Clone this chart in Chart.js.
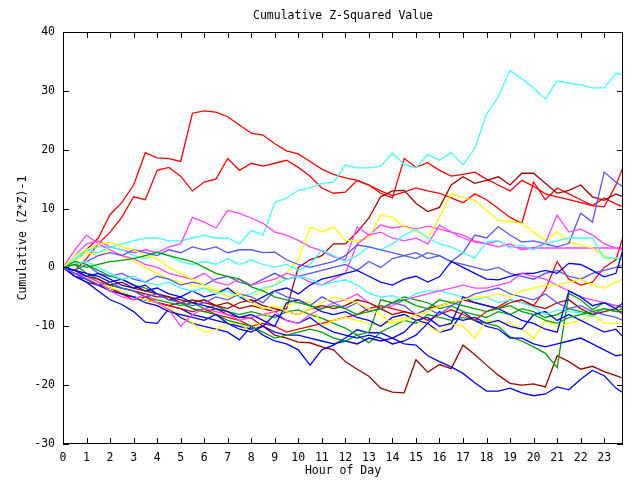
<!DOCTYPE html>
<html>
<head>
<meta charset="utf-8">
<script src="https://cdn.jsdelivr.net/npm/chart.js@4.4.1/dist/chart.umd.min.js"></script>
<style>
  html, body { margin: 0; padding: 0; background: #ffffff; }
  #wrap { width: 640px; height: 480px; }
</style>
</head>
<body>
<div id="wrap"><canvas id="chart" width="640" height="480"></canvas></div>
<script>
var hours = [0, 0.5, 1, 1.5, 2, 2.5, 3, 3.5, 4, 4.5, 5, 5.5,
  6, 6.5, 7, 7.5, 8, 8.5, 9, 9.5, 10, 10.5, 11, 11.5,
  12, 12.5, 13, 13.5, 14, 14.5, 15, 15.5, 16, 16.5, 17, 17.5,
  18, 18.5, 19, 19.5, 20, 20.5, 21, 21.5, 22, 22.5, 23, 23.5, 23.8];
var yTicks = [-30, -20, -10, 0, 10, 20, 30, 40];

var redA = [0, 1, 3, 5, 9, 11, 14, 19.5, 18.6, 18.5, 18, 26.2,
  26.6, 26.4, 25.6, 24.2, 22.8, 22.5, 21, 19.8, 19.3, 18, 16.7, 15.8,
  15.2, 14.8, 14, 13, 12.2, 12.8, 13.5, 13, 12.6, 11.8, 11, 12.5,
  11.5, 10, 8.5, 7.5, 14.5, 11.5, 13.5, 12.5, 11.5, 10.5, 11.8, 10.8, 10.3];
var redB = [0, -0.5, 1.5, 4, 6, 8.5, 12, 11.5, 16.5, 17, 15.5, 13,
  14.5, 15, 18.5, 16.5, 17.7, 17.2, 17.7, 18.2, 17, 15.5, 13.5, 12.6,
  12.8, 14.8, 14, 12.6, 11.8, 18.5, 17, 17.8, 16.5, 15.5, 15.8, 16.2,
  15, 14, 13, 14.8, 13.8, 12.5, 12, 11.5, 11, 10.5, 10.3, 14, 17];
var redC = [0, -1, -2, -3, -3.5, -4.5, -5.5, -5, -6, -6.5, -7, -7.5,
  -7, -8, -8.5, -9, -10, -9.5, -10, -11, -10.5, -10, -9.5, -9,
  -8.5, -8, -7, -6.5, -7, -7.5, -8, -9, -8, -7.2, -8, -9,
  -7.5, -6.7, -5.5, -6, -6.5, -3.8, 1, -2, -3, -2.5, 0, 1.3, 5.2];
var darkA = [0, -1, -1.5, -2.5, -3, -3.5, -4, -4.5, -5, -5, -5.5, -6,
  -5.5, -6.5, -6, -7, -6.5, -7, -7.5, -7, 0, 1.3, 2, 4,
  4, 6, 8.4, 12, 13, 13.1, 10.9, 9.5, 10.2, 14, 15.4, 14.3,
  14.8, 15.4, 14, 16, 16, 14.3, 12.6, 13.1, 14, 12, 11.4, 12.5, 12];
var darkB = [0, -1.5, -2.5, -3, -3.5, -4.5, -5, -5.5, -6, -6.5, -6, -7,
  -7.5, -7, -8, -8.5, -8.6, -10, -11.5, -12, -12.7, -12.8, -13.5, -14,
  -16, -17.3, -18.5, -20.5, -21.2, -21.3, -15.7, -17.8, -16.5, -17.2, -13.2, -14.8,
  -16.6, -18.3, -19.7, -20, -19.8, -20.3, -15, -16, -17.3, -16.8, -17.7, -18.4, -18.8];
var darkC = [0, -0.5, -1.5, -2, -3, -2.5, -3.5, -4, -4.5, -5, -6, -5.5,
  -6, -6.5, -7, -6, -5.5, -6.5, -7, -7.5, -8, -7, -6.5, -7,
  -6.5, -5.5, -6, -7, -8, -7.5, -8, -7, -6.5, -6, -5.5, -6,
  -6.5, -7, -6, -5.5, -6.5, -7, -6, -5.5, -7, -8, -7.5, -7, -8];
var cyanA = [0, 1, 3, 3.5, 3.5, 4, 4.5, 5, 5, 4.5, 4.5, 5,
  5.5, 5, 5, 4, 6.3, 5.5, 11, 11.8, 13.1, 13.5, 14.3, 14.5,
  17.4, 16.9, 16.9, 17.2, 19.4, 17.5, 16.9, 19.2, 18.2, 19.5, 17.4, 20.2,
  26, 29, 33.5, 32, 30.5, 28.6, 31.7, 31.3, 31, 30.5, 30.5, 33, 32.8];
var cyanB = [0, 1.5, 3, 2.5, 3.5, 3, 2, 1.5, 2.5, 2, 1, 0.5,
  1, 0.5, 1.5, 0.5, 1.3, 0.5, 0, 0.5, -0.5, 0.5, 3, 2,
  1, 2, 3.5, 3, 4, 5.5, 6.5, 5, 4, 3.5, 2.5, 1.6,
  4.3, 4.6, 3.3, 3.8, 3, 4, 4.5, 5, 5, 5, 1.6, 1.6, 1.3];
var cyanC = [0, 0.5, 1, 0, -1, -2, -1.5, -2.5, -3, -2.5, -3.5, -4,
  -3.5, -4.5, -4, -5, -4.5, -3.5, -3, -2, -1.5, -2, -3, -2.5,
  -2.1, -3, -4.4, -5, -4.8, -5.5, -4.5, -4, -4, -4.5, -5, -5.5,
  -5, -6, -5.5, -6, -6.7, -8, -7.2, -7.5, -7.7, -8.4, -7, -7.2, -7.2];
var magA = [0, 2, 4, 4.5, 3.5, 3, 2.5, 3, 2.5, 3.5, 4, 8.5,
  7.7, 6.7, 9.7, 9.2, 8.4, 7.5, 6, 5.5, 4.6, 3.5, 2.8, 1.8,
  1.3, 6.9, 5.5, 7.2, 6.7, 7, 6.5, 7, 6.5, 6, 5.5, 4.5,
  4, 4.5, 3.5, 3.3, 3.3, 3.3, 3.3, 3.3, 3.3, 3.3, 3.3, 3.3, 3.3];
var magB = [0, 3, 5.5, 4, 3, 2, 1.5, 0.5, 0, -1, -1.5, -2,
  -1, -2.5, -3, -2, -3, -2.5, -2, -1, -1.5, -2.5, -3, -2,
  -1, 4, 5.5, 6, 5, 4.5, 5, 4, 7.2, 6, 5, 4.3,
  4, 3.5, 4, 3, 3.3, 4.1, 8.9, 6, 6.5, 5.5, 4, 3.3, 3];
var magC = [0, -1, -1.5, -2.5, -4, -5, -5.5, -4.5, -6, -7.2, -10, -8,
  -7, -7.5, -8, -9, -8.5, -8, -7.5, -9, -9.5, -8, -7, -6,
  -5.5, -4.5, -6, -7, -6.5, -5.5, -5, -4.5, -4, -3.5, -3, -3.5,
  -3.5, -3, -2.5, -1, -1.5, -2, -3, -4, -5, -5.5, -6, -6.5, -7];
var yelA = [0, 1, 2.5, 2, 3, 2, 1, 0, -1, -2, -2.5, -3,
  -3.5, -4, -3.5, -4.5, -5, -4, -3, -1, 1.3, 6.9, 6, 6.9,
  4.6, 4.5, 5, 8.9, 8.5, 6.9, 6.3, 5, 8.5, 12.6, 11.8, 11.4,
  9.7, 8, 7.8, 7.5, 6, 4.6, 6, 4.3, 3.8, 3.3, 2, 1.3, 1.8];
var yelB = [0, -1, -2, -2.5, -3.5, -4, -5, -5.5, -6, -7, -8, -9.5,
  -11, -10.6, -9.5, -9.5, -11, -9, -7, -6.5, -6, -5.8, -10, -9,
  -8.5, -9, -9.5, -10, -9, -8.5, -9, -10, -11, -9.5, -10, -12,
  -9, -9.2, -9.5, -10.5, -12, -9, -10, -9.5, -9, -8, -9.5, -9.5, -9.5];
var yelC = [0, 2, 3, 4, 4.3, 3.5, 3, 2, 1.5, 0, -1, -2,
  -3, -4, -5, -4.5, -6, -7, -6.5, -7.5, -8, -7, -6, -5,
  -5.5, -6, -7, -8, -9.5, -9, -8, -7.5, -6.5, -6, -5.5, -5,
  -5, -4.5, -5, -4, -3.5, -3, -3, -2.5, -2, -3, -3.5, -2.5, -2];
var grnA = [0, 0.5, -1, -2, -3, -3.5, -4, -5, -5.5, -6, -6.5, -6,
  -7, -6.5, -7.5, -8, -7.5, -8, -8.5, -7.5, -7.2, -8, -8.6, -9.5,
  -10.3, -11.5, -12.8, -11, -10, -9, -9.5, -8, -8.5, -9, -8.5, -9,
  -9.5, -10, -11.8, -12.5, -13.5, -14.6, -17, -4.4, -5.5, -7.2, -6, -6.5, -6.7];
var grnB = [0, 1, 0.5, -0.5, -1.5, -2, -3, -3.5, -4.5, -5, -6, -7,
  -7.5, -8, -9, -9.5, -10, -11, -12, -11.5, -11, -10.5, -11, -12,
  -12.5, -11.5, -11, -5.5, -6, -5, -5.5, -6, -7, -6.5, -7.5, -8,
  -8.5, -7.5, -8, -7, -7.5, -8.5, -8, -7, -7.5, -8, -7, -7.5, -7.5];
var grnC = [0, 0.5, 0, 0.5, 1, 1.2, 1.5, 2, 2.6, 2, 1.5, 1,
  0, -1, -1.5, -2, -3.3, -4, -5, -5.5, -6, -6.5, -7, -6.5,
  -7, -8, -7.5, -7, -6, -5.5, -6.5, -7, -5.5, -6, -6.5, -7,
  -7.5, -7, -6.5, -7.5, -8, -9, -9.5, -8.5, -8, -7.5, -7, -7.5, -7];
var bluA = [0, -1.5, -2.5, -4, -5.5, -6.3, -7.5, -9.3, -9.5, -7, -8.5, -9.5,
  -10, -10.5, -11, -12.3, -10, -11.5, -12.5, -13, -14, -16.6, -14, -13.2,
  -12, -10.6, -11.1, -11.1, -12, -13, -13.2, -15, -16, -16.9, -18, -19.6,
  -21, -21, -20.5, -21.3, -21.8, -21.5, -20.3, -20.8, -19, -17.5, -18.4, -20.5, -21.3];
var bluB = [0, -1, -2, -3, -3.5, -4.5, -5, -5.5, -6, -6.5, -7, -8,
  -8.5, -9, -9.5, -10, -10.5, -10, -11, -11.5, -11.5, -12, -12.5, -13,
  -12.5, -13, -12, -12.5, -12, -11, -9, -9.5, -11, -10.5, -7.5, -9,
  -10, -10.5, -12, -12, -13, -13.5, -13, -12.5, -12, -13, -14, -15, -14.8];
var bluC = [0, -1.5, -2, -3, -4, -4.5, -5, -6, -6.5, -7.5, -8, -8.5,
  -9, -8, -9.5, -10.5, -11, -10, -8, -9, -9.5, -8.5, -10, -11,
  -11.5, -12, -11.5, -12, -13, -12.5, -11.5, -9.5, -7.5, -8.5, -9, -8.5,
  -9.5, -9, -10, -10.5, -8, -7.5, -9, -8, -9, -10, -11, -10.5, -11.8];
var bluD = [0, -0.5, -1, -1.5, -2.5, -2, -3, -4, -3.5, -4.5, -5, -4,
  -5, -4.5, -3.5, -5, -6, -5, -4, -3.5, -4.5, -3, -2, -1.5,
  -1, -0.5, -1.5, -2.5, -3, -2, -1.5, -2.5, -1.6, 1, 0, -1,
  -2, -2.1, -1.5, -1, -1, -0.5, -1, 0.7, 0.5, -0.5, -1.6, -1, 3];
var bluE = [0, -0.5, -1.5, -1, -2, -3, -3.5, -3, -4.5, -5.5, -5, -6,
  -6.5, -7, -7.5, -8.5, -8, -9, -10, -6, -5.5, -6.5, -7.5, -8,
  -7.5, -8.5, -9, -10, -8.5, -8, -9, -8.5, -10, -9.5, -5, -6,
  -6.5, -7, -8, -9, -9.5, -10.5, -11, -4, -5, -6.5, -6, -7, -6];
var ltbA = [0, -0.5, 0.5, -1, -1.5, -1, -2, -2.5, -1.5, -2, -3, -2.5,
  -3, -2, -1.5, -2.5, -3, -2, -1, -2, -1.5, -1, -0.5, 0,
  0.5, -0.5, 1, 0, 1.5, 2, 2.5, 1.5, 2, 1, 2.5, 5.5,
  5, 6.9, 5.5, 4.3, 4.5, 4, 3.5, 4.1, 9.2, 7.7, 16.2, 14.5, 13.7];
var ltbB = [0, 0.5, 1, 2, 2.5, 2, 3, 2.5, 2, 3, 2.5, 3.5,
  3, 3.5, 2.5, 3, 3, 2.5, 2.6, 1.3, 0.5, 0, 0.5, 1,
  2, 3.8, 3.5, 3, 2.5, 2, 1.5, 2.5, 2, 1, 0.5, 0,
  -0.5, 0, -1, -1.5, -2, -1, -0.5, -1.5, -2, -1, -0.5, 0, 0.5];
var ltbC = [0, -1, -2, -3, -2.5, -3.5, -4, -5, -4.5, -5.5, -6, -6.5,
  -6, -5, -5.5, -4.5, -5, -6, -4, -5, -5.5, -6.5, -5, -6,
  -7, -6, -7.5, -7, -6, -6.5, -8, -7, -8, -6.5, -5.5, -4.5,
  -4, -3.5, -4.5, -5, -5.5, -4.5, -6, -7, -6.5, -7.5, -8, -8.5, -9];

var RED = '#ff0000', DARK = '#a00000', GREEN = '#00a000', BLUE = '#0000ff',
    LTBLUE = '#5555ff', MAGENTA = '#ff44ff', CYAN = '#40ffff', YELLOW = '#ffff00';

var lines = [
  [grnC, GREEN], [yelC, YELLOW], [ltbC, LTBLUE], [bluE, BLUE], [darkC, DARK],
  [magC, MAGENTA], [cyanC, CYAN], [bluD, BLUE], [ltbB, LTBLUE], [cyanB, CYAN],
  [magB, MAGENTA], [bluC, BLUE], [grnB, GREEN], [yelB, YELLOW], [redC, RED],
  [bluB, BLUE], [grnA, GREEN], [ltbA, LTBLUE], [yelA, YELLOW], [magA, MAGENTA],
  [bluA, BLUE], [darkB, DARK], [darkA, DARK], [cyanA, CYAN], [redB, RED], [redA, RED]
];

var FONT = '"DejaVu Sans Mono", "Liberation Mono", monospace';

function toPoints(vals) {
  return vals.map(function (v, i) { return { x: hours[i], y: v }; });
}

var datasets = lines.map(function (l) {
  return {
    data: toPoints(l[0]),
    borderColor: l[1],
    borderWidth: 1.3,
    pointRadius: 0,
    fill: false,
    tension: 0
  };
});

// gnuplot style frame, inward ticks and labels
var framePlugin = {
  id: 'frame',
  afterDraw: function (chart) {
    var ctx = chart.ctx;
    var a = chart.chartArea;
    var xs = chart.scales.x, ys = chart.scales.y;
    ctx.save();
    ctx.strokeStyle = '#000000';
    ctx.lineWidth = 1;
    ctx.strokeRect(a.left + 0.5, a.top + 0.5, a.right - a.left - 1, a.bottom - a.top - 1);
    ctx.beginPath();
    xs.ticks.forEach(function (t) {
      var px = Math.round(xs.getPixelForValue(t.value)) + 0.5;
      ctx.moveTo(px, a.bottom); ctx.lineTo(px, a.bottom - 6);
      ctx.moveTo(px, a.top); ctx.lineTo(px, a.top + 6);
    });
    ys.ticks.forEach(function (t) {
      var py = Math.round(ys.getPixelForValue(t.value)) + 0.5;
      ctx.moveTo(a.left, py); ctx.lineTo(a.left + 6, py);
      ctx.moveTo(a.right, py); ctx.lineTo(a.right - 6, py);
    });
    ctx.stroke();

    ctx.fillStyle = '#000000';
    ctx.font = '11.5px ' + FONT;
    ctx.textAlign = 'center';
    ctx.textBaseline = 'middle';
    var cx = (a.left + a.right) / 2;
    ctx.fillText('Cumulative Z-Squared Value', cx, 16);
    ctx.fillText('Hour of Day', cx, 471);
    ctx.translate(23, (a.top + a.bottom) / 2);
    ctx.rotate(-Math.PI / 2);
    ctx.fillText('Cumulative (Z*Z)-1', 0, 0);
    ctx.restore();
  }
};

new Chart(document.getElementById('chart'), {
  type: 'line',
  data: { datasets: datasets },
  options: {
    responsive: false,
    animation: false,
    events: [],
    layout: { padding: { top: 32, right: 17, left: 0, bottom: 0 } },
    plugins: {
      legend: { display: false },
      title: { display: false },
      tooltip: { enabled: false }
    },
    scales: {
      x: {
        type: 'linear',
        min: 0,
        max: 23.8,
        grid: { display: false, drawTicks: false },
        border: { display: false },
        afterFit: function (s) { s.height = 36; },
        ticks: {
          stepSize: 1,
          includeBounds: false,
          autoSkip: false,
          maxRotation: 0,
          padding: 7,
          color: '#000000',
          font: { family: FONT, size: 11.5 },
          callback: function (v) { return v; }
        }
      },
      y: {
        min: -30,
        max: 40,
        grid: { display: false, drawTicks: false },
        border: { display: false },
        afterFit: function (s) { s.width = 63; },
        afterBuildTicks: function (s) {
          s.ticks = yTicks.map(function (v) { return { value: v }; });
        },
        ticks: {
          padding: 8,
          color: '#000000',
          font: { family: FONT, size: 11.5 }
        }
      }
    }
  },
  plugins: [framePlugin]
});
</script>
</body>
</html>
